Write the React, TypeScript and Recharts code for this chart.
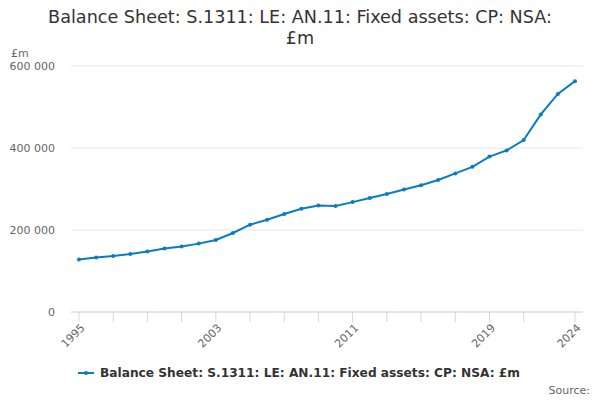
import { LineChart, Line, XAxis, YAxis, CartesianGrid } from 'recharts';

const years = [
  1995, 1996, 1997, 1998, 1999, 2000, 2001, 2002, 2003, 2004,
  2005, 2006, 2007, 2008, 2009, 2010, 2011, 2012, 2013, 2014,
  2015, 2016, 2017, 2018, 2019, 2020, 2021, 2022, 2023, 2024,
];

const fixedAssets = [
  127800, 132700, 136600, 141500, 147300, 154600, 159500, 166800, 175600, 192700,
  213000, 225000, 239000, 252000, 259500, 258500, 268000, 278000, 288000, 299000,
  309000, 322000, 338000, 354000, 379000, 394000, 419500, 482000, 532000, 563000,
];

const xTicks = [1995, 1997, 1999, 2001, 2003, 2005, 2007, 2009, 2011, 2013, 2015, 2017, 2019, 2021, 2024];
const xLabels = [1995, 2003, 2011, 2019, 2024];
const yTicks = [0, 200000, 400000, 600000];

const seriesName = 'Balance Sheet: S.1311: LE: AN.11: Fixed assets: CP: NSA: £m';
const lineColor = '#0a7cc1';
const font = '"DejaVu Sans", sans-serif';

const data = years.map((year, i) => ({ year, value: fixedAssets[i] }));

const formatY = (v: number) => v.toString().replace(/\B(?=(\d{3})+(?!\d))/g, ' ');

const XTick = ({ x, y, payload }: any) => {
  if (!xLabels.includes(payload.value)) return null;
  return (
    <text
      transform={`translate(${x + 4},${y + 2}) rotate(-45)`}
      textAnchor="end"
      dominantBaseline="central"
      fontSize={11}
      fill="#666"
      fontFamily={font}
    >
      {payload.value}
    </text>
  );
};

export default function App() {
  return (
    <div style={{ position: 'absolute', left: 0, top: 0, width: 600, height: 400, fontFamily: font, background: '#fff' }}>
      <div style={{ position: 'absolute', left: 0, top: 7, width: 600, textAlign: 'center', fontSize: 17.6, lineHeight: '21px', color: '#333' }}>
        Balance Sheet: S.1311: LE: AN.11: Fixed assets: CP: NSA:
        <br />
        £m
      </div>
      <div style={{ position: 'absolute', left: 11, top: 47, fontSize: 11, color: '#666' }}>£m</div>
      <LineChart width={600} height={400} data={data} margin={{ top: 66, right: 17, bottom: 48, left: 0 }}>
        <CartesianGrid vertical={false} stroke="#e6e6e6" />
        <XAxis
          dataKey="year"
          type="number"
          domain={[1995, 2024]}
          ticks={xTicks}
          interval={0}
          height={40}
          tickSize={10}
          stroke="#ccd6eb"
          padding={{ left: 8, right: 8 }}
          tick={<XTick />}
        />
        <YAxis
          width={71}
          domain={[0, 600000]}
          ticks={yTicks}
          tickFormatter={formatY}
          axisLine={false}
          tickLine={false}
          tickSize={0}
          tickMargin={16}
          tick={{ fontSize: 11, fill: '#666', fontFamily: font }}
        />
        <Line
          dataKey="value"
          stroke={lineColor}
          strokeWidth={2}
          dot={{ r: 2, fill: lineColor, stroke: lineColor, strokeWidth: 0 }}
          isAnimationActive={false}
        />
      </LineChart>
      <div style={{ position: 'absolute', left: 78, top: 366, display: 'flex', alignItems: 'center' }}>
        <svg width={18} height={10}>
          <line x1={0} y1={5} x2={16} y2={5} stroke={lineColor} strokeWidth={2} />
          <circle cx={8} cy={5} r={2} fill={lineColor} />
        </svg>
        <span style={{ marginLeft: 4, fontSize: 12.2, fontWeight: 'bold', color: '#333' }}>{seriesName}</span>
      </div>
      <div style={{ position: 'absolute', right: 10, top: 384, fontSize: 11, color: '#666' }}>Source:</div>
    </div>
  );
}
